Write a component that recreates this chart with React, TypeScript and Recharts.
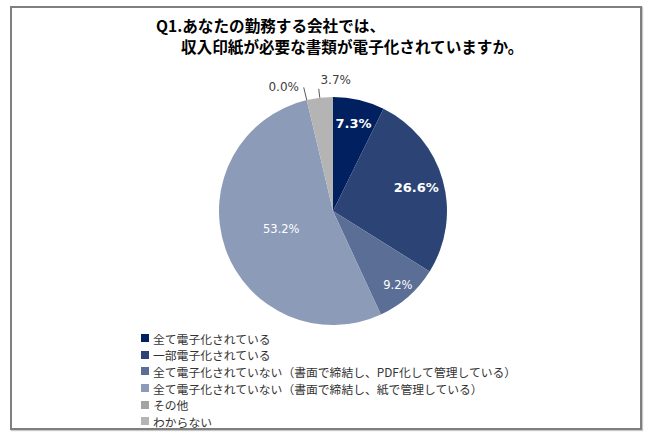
import React from 'react';
import { PieChart, Pie, Cell } from 'recharts';

const categories = [
  '全て電子化されている',
  '一部電子化されている',
  '全て電子化されていない（書面で締結し、PDF化して管理している）',
  '全て電子化されていない（書面で締結し、紙で管理している）',
  'その他',
  'わからない',
];
const values = [7.3, 26.6, 9.2, 53.2, 0.0, 3.7];
const colors = ['#002060', '#2b4475', '#5a6e96', '#8c9bb7', '#a3a3a3', '#b4b4b4'];

const titleLines = ['Q1.あなたの勤務する会社では、', '収入印紙が必要な書類が電子化されていますか。'];

const data = categories.map((name, i) => ({ name, value: values[i] }));

const RADIAN = Math.PI / 180;
const FONT = '"DejaVu Sans", Verdana, sans-serif';
const JP = '"Noto Sans CJK JP", sans-serif';

// radius factor + style per slice label
const labelStyle = [
  { r: 0.79, bold: true, size: 13 },
  { r: 0.76, bold: true, size: 13 },
  { r: 0.86, bold: false, size: 11.5 },
  { r: 0.48, bold: false, size: 11.5 },
];

const renderLabel = (props: any) => {
  const { cx, cy, midAngle, outerRadius, index, value } = props;
  const text = `${value.toFixed(1)}%`;
  const sin = Math.sin(-midAngle * RADIAN);
  const cos = Math.cos(-midAngle * RADIAN);
  if (index < 4) {
    const s = labelStyle[index];
    const r = outerRadius * s.r;
    return (
      <text
        x={cx + r * cos}
        y={cy + r * sin}
        fill="#fff"
        textAnchor="middle"
        dominantBaseline="central"
        fontFamily={FONT}
        fontSize={s.size}
        fontWeight={s.bold ? 'bold' : 'normal'}
      >
        {text}
      </text>
    );
  }
  // outside labels with short leader lines
  const x1 = cx + outerRadius * cos;
  const y1 = cy + outerRadius * sin;
  const ext = index === 4 ? 13 : 9;
  const x2 = cx + (outerRadius + ext) * cos;
  const y2 = cy + (outerRadius + ext) * sin;
  const tx = index === 4 ? x2 - 20 : x2 + 17;
  const ty = index === 4 ? y2 : y2 - 9;
  return (
    <g>
      <line x1={x1} y1={y1} x2={x2} y2={y2} stroke="#595959" strokeWidth={1} />
      <text
        x={tx}
        y={ty}
        fill="#404040"
        textAnchor="middle"
        dominantBaseline="central"
        fontFamily={FONT}
        fontSize={12}
      >
        {text}
      </text>
    </g>
  );
};

export default function App() {
  return (
    <div style={{ position: 'absolute', left: 0, top: 0, width: 650, height: 436, background: '#fff' }}>
      <div
        style={{
          position: 'absolute',
          left: 10,
          top: 6,
          width: 628,
          height: 420,
          border: '2px solid #7f7f7f',
          boxShadow: '1px 1px 1px #c8c8c8',
        }}
      />
      <div
        style={{
          position: 'absolute',
          left: 156,
          top: 15,
          fontFamily: JP,
          fontWeight: 'bold',
          fontSize: 15.6,
          lineHeight: '21px',
          color: '#000',
          whiteSpace: 'nowrap',
        }}
      >
        <div>{titleLines[0]}</div>
        <div style={{ paddingLeft: 25 }}>{titleLines[1]}</div>
      </div>
      <div style={{ position: 'absolute', left: 0, top: 0 }}>
        <PieChart width={650} height={436} margin={{ top: 0, right: 0, bottom: 0, left: 0 }}>
          <Pie
            data={data}
            dataKey="value"
            nameKey="name"
            cx={333}
            cy={211}
            outerRadius={114}
            startAngle={90}
            endAngle={-270}
            stroke="none"
            label={renderLabel}
            labelLine={false}
            isAnimationActive={false}
          >
            {data.map((d, i) => (
              <Cell key={d.name} fill={colors[i]} />
            ))}
          </Pie>
        </PieChart>
      </div>
      <div
        style={{
          position: 'absolute',
          left: 141,
          top: 330,
          fontFamily: JP,
          fontSize: 11.8,
          color: '#333',
          whiteSpace: 'nowrap',
        }}
      >
        {categories.map((c, i) => (
          <div key={c} style={{ display: 'flex', alignItems: 'center', height: 16.6 }}>
            <span
              style={{ display: 'inline-block', width: 8, height: 8, background: colors[i], marginRight: 4 }}
            />
            <span>{c}</span>
          </div>
        ))}
      </div>
    </div>
  );
}
